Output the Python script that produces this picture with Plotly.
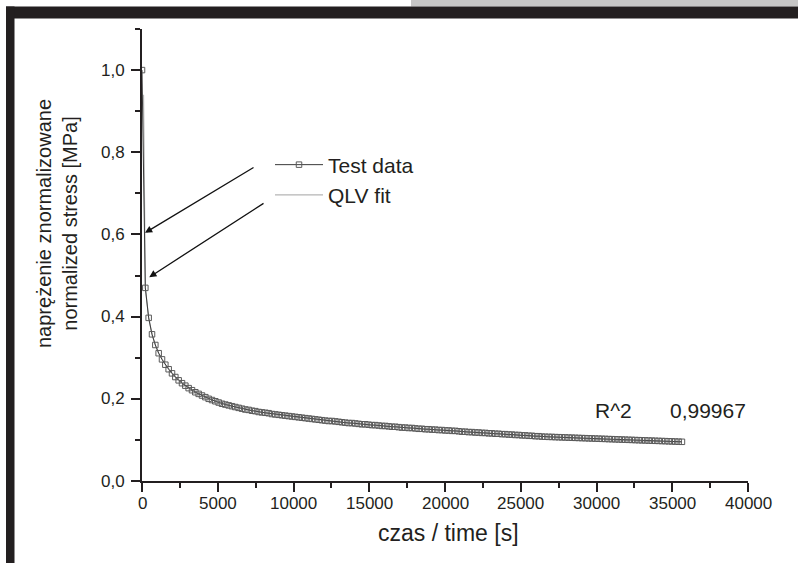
import plotly.graph_objects as go

# ---------------- data ----------------
time_s = [0, 220, 440, 660, 880, 1100, 1320, 1540, 1760, 1980,
          2200, 2420, 2640, 2860, 3080, 3300, 3520, 3740, 3960, 4180,
          4400, 4620, 4840, 5060, 5280, 5500, 5720, 5940, 6160, 6380,
          6600, 6820, 7040, 7260, 7480, 7700, 7920, 8140, 8360, 8580,
          8800, 9020, 9240, 9460, 9680, 9900, 10120, 10340, 10560, 10780,
          11000, 11220, 11440, 11660, 11880, 12100, 12320, 12540, 12760, 12980,
          13200, 13420, 13640, 13860, 14080, 14300, 14520, 14740, 14960, 15180,
          15400, 15620, 15840, 16060, 16280, 16500, 16720, 16940, 17160, 17380,
          17600, 17820, 18040, 18260, 18480, 18700, 18920, 19140, 19360, 19580,
          19800, 20020, 20240, 20460, 20680, 20900, 21120, 21340, 21560, 21780,
          22000, 22220, 22440, 22660, 22880, 23100, 23320, 23540, 23760, 23980,
          24200, 24420, 24640, 24860, 25080, 25300, 25520, 25740, 25960, 26180,
          26400, 26620, 26840, 27060, 27280, 27500, 27720, 27940, 28160, 28380,
          28600, 28820, 29040, 29260, 29480, 29700, 29920, 30140, 30360, 30580,
          30800, 31020, 31240, 31460, 31680, 31900, 32120, 32340, 32560, 32780,
          33000, 33220, 33440, 33660, 33880, 34100, 34320, 34540, 34760, 34980,
          35200, 35420, 35640]

stress_test = [1.000, 0.470, 0.397, 0.357, 0.331, 0.311, 0.296, 0.283, 0.272, 0.262,
               0.253, 0.245, 0.238, 0.232, 0.226, 0.221, 0.216, 0.212, 0.208, 0.204,
               0.200, 0.197, 0.194, 0.191, 0.188, 0.186, 0.184, 0.182, 0.180, 0.178,
               0.176, 0.174, 0.173, 0.171, 0.170, 0.168, 0.167, 0.166, 0.165, 0.163,
               0.162, 0.161, 0.160, 0.159, 0.158, 0.157, 0.156, 0.155, 0.154, 0.153,
               0.152, 0.151, 0.150, 0.149, 0.148, 0.147, 0.146, 0.146, 0.145, 0.144,
               0.143, 0.142, 0.141, 0.141, 0.140, 0.139, 0.138, 0.138, 0.137, 0.136,
               0.136, 0.135, 0.134, 0.134, 0.133, 0.132, 0.132, 0.131, 0.130, 0.130,
               0.129, 0.129, 0.128, 0.127, 0.127, 0.126, 0.126, 0.125, 0.125, 0.124,
               0.124, 0.123, 0.123, 0.122, 0.122, 0.121, 0.120, 0.120, 0.119, 0.119,
               0.118, 0.118, 0.117, 0.117, 0.116, 0.116, 0.115, 0.115, 0.114, 0.114,
               0.113, 0.113, 0.112, 0.112, 0.111, 0.111, 0.110, 0.110, 0.109, 0.109,
               0.108, 0.1077, 0.1074, 0.1072, 0.1068, 0.1066, 0.1062, 0.1060, 0.1056, 0.1054,
               0.1050, 0.1048, 0.1044, 0.1042, 0.1038, 0.1036, 0.1032, 0.1030, 0.1026, 0.1024,
               0.1020, 0.1018, 0.1014, 0.1012, 0.1008, 0.1006, 0.1002, 0.1000, 0.0996, 0.0994,
               0.0990, 0.0988, 0.0984, 0.0982, 0.0978, 0.0976, 0.0972, 0.0970, 0.0966, 0.0964,
               0.0960, 0.0957, 0.0954]

fit_time_s = [100, 220, 440, 660, 880, 1100, 1540, 2200, 3080, 4400,
              6160, 8140, 10340, 13200, 16500, 20020, 24200, 28600, 32120, 35640]
stress_fit = [0.940, 0.470, 0.397, 0.357, 0.331, 0.311, 0.283, 0.253, 0.226, 0.200,
              0.180, 0.166, 0.155, 0.143, 0.132, 0.123, 0.113, 0.1044, 0.0984, 0.0954]

x_tick_vals = [0, 5000, 10000, 15000, 20000, 25000, 30000, 35000, 40000]
x_tick_labels = ["0", "5000", "10000", "15000", "20000", "25000", "30000", "35000", "40000"]
y_tick_vals = [0.0, 0.2, 0.4, 0.6, 0.8, 1.0]
y_tick_labels = ["0,0", "0,2", "0,4", "0,6", "0,8", "1,0"]

# ---------------- layout geometry (pixels) ----------------
W, H = 798, 563
L, R, T, B = 142, 50, 29, 82
PW = W - L - R
PH = H - T - B


def px(xp):
    return (xp - L) / PW


def py(yp):
    return (H - B - yp) / PH


FONT = "Liberation Sans, Arial, Helvetica, sans-serif"
INK = "#231f20"

fig = go.Figure()

fig.add_trace(go.Scatter(
    x=fit_time_s, y=stress_fit, mode="lines", name="QLV fit",
    line=dict(color="#b5b5b5", width=1.2), legendrank=2,
))
fig.add_trace(go.Scatter(
    x=time_s, y=stress_test, mode="lines+markers", name="Test data",
    line=dict(color="#3a3a3a", width=1),
    marker=dict(symbol="square-open", size=5.5, color="#5a5a5a", line=dict(width=1)),
    legendrank=1,
))

axis_common = dict(
    showgrid=False, zeroline=False, showline=True, linecolor=INK, linewidth=2,
    ticks="outside", ticklen=9, tickwidth=2, tickcolor=INK, showticklabels=False,
)

fig.update_xaxes(range=[0, 40000], tickmode="array", tickvals=x_tick_vals,
                 minor=dict(ticks="outside", ticklen=5, tickwidth=2, tickcolor=INK,
                            dtick=2500, tick0=0),
                 **axis_common)
fig.update_yaxes(range=[0, 1.1], tickmode="array", tickvals=y_tick_vals,
                 minor=dict(ticks="outside", ticklen=5, tickwidth=2, tickcolor=INK,
                            dtick=0.1, tick0=0),
                 **axis_common)

tick_font = dict(family=FONT, size=17, color=INK)
annotations = []
for v, t in zip(x_tick_vals, x_tick_labels):
    annotations.append(dict(text=t, x=v, xref="x", y=py(503), yref="paper",
                            showarrow=False, xanchor="center", yanchor="middle",
                            font=tick_font))
for v, t in zip(y_tick_vals, y_tick_labels):
    annotations.append(dict(text=t, x=px(127), xref="paper", y=v, yref="y",
                            showarrow=False, xanchor="right", yanchor="middle",
                            font=tick_font))

annotations += [
    dict(text="naprężenie znormalizowane<br>normalized stress [MPa]", textangle=-90,
         x=px(57), y=py(224), xref="paper", yref="paper", showarrow=False,
         xanchor="center", yanchor="middle", font=dict(family=FONT, size=20, color=INK)),
    dict(text="czas / time [s]", x=px(448), y=py(533), xref="paper", yref="paper",
         showarrow=False, xanchor="center", yanchor="middle",
         font=dict(family=FONT, size=23, color=INK)),
    dict(text="R^2", x=px(613), y=py(410), xref="paper", yref="paper", showarrow=False,
         xanchor="center", yanchor="middle", font=dict(family=FONT, size=21, color=INK)),
    dict(text="0,99967", x=px(708), y=py(410), xref="paper", yref="paper", showarrow=False,
         xanchor="center", yanchor="middle", font=dict(family=FONT, size=21, color=INK)),
    dict(text="", x=200, y=0.604, xref="x", yref="y", ax=7460, ay=0.765, axref="x", ayref="y",
         showarrow=True, arrowhead=2, arrowsize=1.1, arrowwidth=1.3, arrowcolor="#111111"),
    dict(text="", x=480, y=0.496, xref="x", yref="y", ax=8120, ay=0.678, axref="x", ayref="y",
         showarrow=True, arrowhead=2, arrowsize=1.1, arrowwidth=1.3, arrowcolor="#111111"),
]

shapes = [
    dict(type="rect", xref="paper", yref="paper", x0=px(411), x1=px(805), y0=py(6.5), y1=py(-3),
         fillcolor="#c6c6c6", line=dict(width=0), layer="above"),
    dict(type="rect", xref="paper", yref="paper", x0=px(6), x1=px(805), y0=py(18.5), y1=py(6.5),
         fillcolor="#231f20", line=dict(width=0), layer="above"),
    dict(type="rect", xref="paper", yref="paper", x0=px(6), x1=px(14.5), y0=py(570), y1=py(6.5),
         fillcolor="#231f20", line=dict(width=0), layer="above"),
]

fig.update_layout(
    width=W, height=H,
    margin=dict(l=L, r=R, t=T, b=B, pad=0),
    paper_bgcolor="white", plot_bgcolor="white",
    font=dict(family=FONT, color=INK),
    showlegend=True,
    legend=dict(x=px(270), y=py(180), xanchor="left", yanchor="middle",
                bgcolor="rgba(0,0,0,0)", borderwidth=0, itemwidth=48,
                font=dict(family=FONT, size=21, color=INK), tracegroupgap=0),
    annotations=annotations,
    shapes=shapes,
)

fig.write_html("out.html")
